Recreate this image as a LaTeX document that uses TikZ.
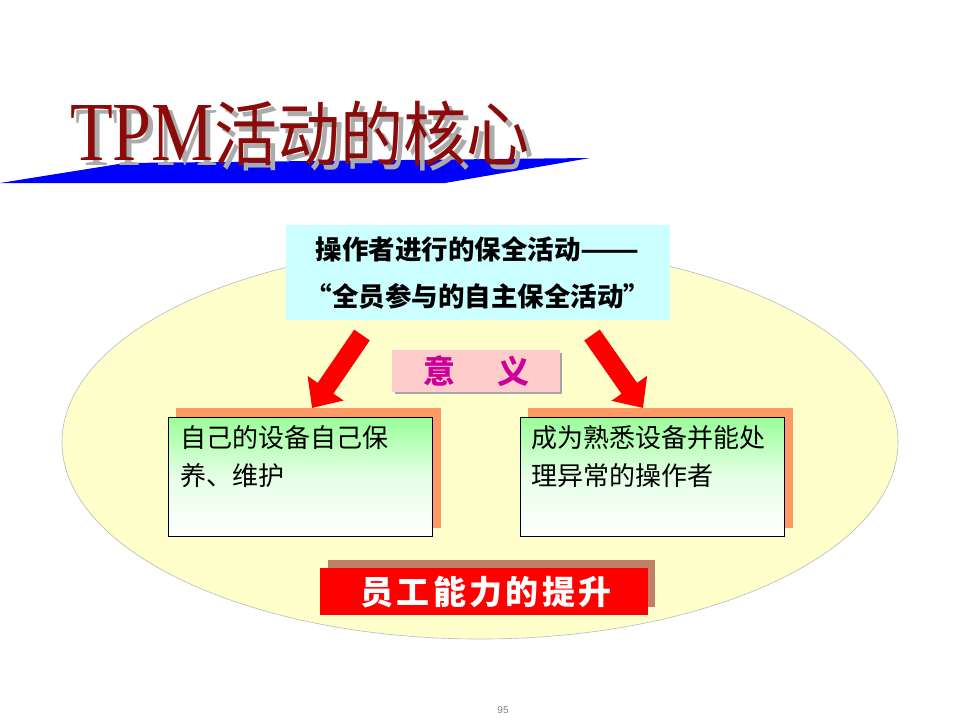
\documentclass[tikz,border=0pt]{standalone}
\usepackage{fontspec}
\setmainfont{Liberation Serif}
\newfontfamily\cjk{Noto Sans CJK SC}
\newfontfamily\pagefont{Liberation Sans}
\usetikzlibrary{arrows.meta}

\definecolor{titlered}{HTML}{8B0A0A}
\definecolor{titlegray}{HTML}{ABABAB}
\definecolor{wedgeblue}{HTML}{0000FF}
\definecolor{ovalfill}{HTML}{FFFFCC}
\definecolor{headcyan}{HTML}{CCFFFF}
\definecolor{meanpink}{HTML}{FFCCCC}
\definecolor{meanmagenta}{HTML}{CC0099}
\definecolor{boxsalmon}{HTML}{FF9966}
\definecolor{boxgreen}{HTML}{99FF99}
\definecolor{resultshadow}{HTML}{C08068}

\begin{document}
\begin{tikzpicture}[x=1pt,y=-1pt,
    titletext/.style={anchor=base west,inner sep=0pt},
    cardshadow/.style={fill=boxsalmon,minimum width=265pt,minimum height=120pt,
      inner sep=0pt,anchor=north west},
    card/.style={draw=black,line width=0.8pt,top color=boxgreen,bottom color=white,
      middle color=boxgreen!25!white,minimum width=264pt,minimum height=119pt,
      inner sep=0pt,anchor=north west},
    cardtext/.style={anchor=base west,inner sep=0pt,text width=250pt,align=left,
      font=\cjk\fontsize{26}{38}\selectfont},
    bigarrow/.style={red,line width=19pt,-{Triangle[length=24pt,width=42pt]}}]
  \useasboundingbox (0,0) rectangle (960,720);
  % title with its blue wedge
  \fill[wedgeblue] (0,183) -- (125,163) -- (590,158) -- (445,183) -- cycle;
  \node[titletext,text=titlegray] (titleshadow) at (75,165)
    {\scalebox{1}[1.2]{\fontsize{70}{70}\selectfont TPM}%
     \scalebox{1}[1.12]{\cjk\fontsize{63}{63}\selectfont 活动的核心}};
  \node[titletext,text=titlered] (title) at (70,160)
    {\scalebox{1}[1.2]{\fontsize{70}{70}\selectfont TPM}%
     \scalebox{1}[1.12]{\cjk\fontsize{63}{63}\selectfont 活动的核心}};
  % background oval
  \draw[draw=gray!55,line width=0.6pt,fill=ovalfill] (480,442) ellipse [x radius=418,y radius=197];
  % head box
  \node[fill=headcyan,minimum width=384pt,minimum height=95pt,inner sep=0pt,align=center,
    font=\cjk\bfseries\fontsize{26.5}{47}\selectfont] (practice) at (478,272.5)
    {操作者进行的保全活动\scalebox{1.3}[1]{——}\\“全员参与的自主保全活动”};
  % arrows
  \coordinate (leftfrom) at (362,335);
  \coordinate (leftto) at (312,408);
  \coordinate (rightfrom) at (592,335);
  \coordinate (rightto) at (643,408);
  \draw[bigarrow] (leftfrom) -- (leftto);
  \draw[bigarrow] (rightfrom) -- (rightto);
  % meaning label
  \fill[gray!70] (395,353) rectangle (562,394);
  \node[fill=meanpink,minimum width=168pt,minimum height=42pt,inner sep=0pt,anchor=north west,
    text=meanmagenta,font=\cjk\bfseries\fontsize{32}{32}\selectfont] (meaning) at (392,350)
    {意\hspace{42pt}义};
  % two cards
  \node[cardshadow] (selfshadow) at (176,408) {};
  \node[card] (self) at (168,417) {};
  \node[cardtext] (selftext) at (180,447) {自己的设备自己保\\养、维护};
  \node[cardshadow] (skillshadow) at (528,408) {};
  \node[card] (skill) at (520,417) {};
  \node[cardtext] (skilltext) at (531,447) {成为熟悉设备并能处\\理异常的操作者};
  % result
  \node[fill=resultshadow,minimum width=327pt,minimum height=47pt,inner sep=0pt,
    anchor=north west] (resultshadow) at (328,560) {};
  \node[fill=red,minimum width=328pt,minimum height=47pt,inner sep=0pt,anchor=north west]
    (result) at (320,568) {};
  \node[text=white,font=\cjk\bfseries\fontsize{33}{33}\selectfont\addfontfeatures{LetterSpace=10}]
    (resulttext) at (486,592) {员工能力的提升};
  % page number
  \node[text=gray,font=\pagefont\fontsize{10}{10}\selectfont] (page) at (503,710) {95};
\end{tikzpicture}
\end{document}
